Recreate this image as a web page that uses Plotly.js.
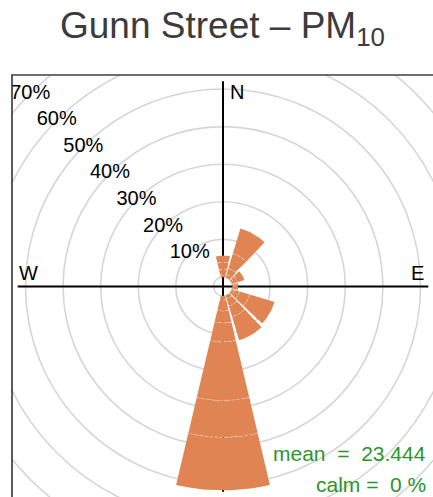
<!DOCTYPE html>
<html><head><meta charset="utf-8">
<script src="https://cdn.plot.ly/plotly-3.0.1.min.js"></script>
<style>html,body{margin:0;padding:0;background:#fff;overflow:hidden}#chart{width:433px;height:497px}</style>
</head><body><div id="chart"></div>
<script>
// wind-direction bins (degrees, clockwise from north)
const directions = [0, 30, 60, 90, 120, 150, 180];
// share of time (%) in each concentration interval, per direction (stacked outward)
const interval1 = [0.6, 0.8, 0.5, 0.4, 0.7, 0.9, 1.1];
const interval2 = [1.5, 1.7, 1.0, 0.6, 1.4, 2.0, 2.9];
const interval3 = [1.8, 4.1, 1.9, 0.5, 2.8, 3.0, 3.2];
const interval4 = [1.8, 7.0, 0.0, 0.0, 6.9, 6.5, 5.0];
const interval5 = [0.0, 0.0, 0.0, 0.0, 0.0, 0.0, 15.6];
const interval6 = [0.0, 0.0, 0.0, 0.0, 0.0, 0.0, 9.8];
const interval7 = [0.0, 0.0, 0.0, 0.0, 0.0, 0.0, 14.1];
const ringValues = [0, 10, 20, 30, 40, 50, 60, 70];
const ringLabels = ['10%', '20%', '30%', '40%', '50%', '60%', '70%'];
const compassLabels = ['N', 'E', 'W'];
const meanLabel = 'mean\u00a0\u00a0=\u00a0\u00a023.444';
const calmLabel = 'calm\u00a0=\u00a0\u00a00\u00a0%';

const series = [interval1, interval2, interval3, interval4, interval5, interval6, interval7];
const K = 3.76;          // px per percent
const OFF = 2.53;        // central hole, in percent units
const HALF = 13.3;       // half wedge width, degrees
const FILL = '#DF8452';
const FONT = 'Liberation Sans, Arial, Helvetica, sans-serif';
const CX = 223, CY = 286.5, L = 12, T = 75, W = 433, H = 497;

const rad = d => d * Math.PI / 180;
function px(r, b) { return r * Math.sin(rad(b)); }
function py(r, b) { return r * Math.cos(rad(b)); }

const traces = [];
const dashX = [], dashY = [];
directions.forEach((dir, i) => {
  let cum = 0;
  series.forEach((s, k) => {
    const v = s[i];
    if (v <= 0) return;
    const r0 = OFF + cum, r1 = OFF + cum + v;
    const xs = [], ys = [];
    const n = 24;
    for (let j = 0; j <= n; j++) { const b = dir - HALF + 2 * HALF * j / n; xs.push(px(r1, b)); ys.push(py(r1, b)); }
    for (let j = n; j >= 0; j--) { const b = dir - HALF + 2 * HALF * j / n; xs.push(px(r0, b)); ys.push(py(r0, b)); }
    xs.push(xs[0]); ys.push(ys[0]);
    traces.push({type: 'scatter', mode: 'lines', x: xs, y: ys, fill: 'toself', fillcolor: FILL,
      line: {width: 0, color: FILL}, hoverinfo: 'skip', showlegend: false});
    cum += v;
    const isLast = series.slice(k + 1).every(t => t[i] <= 0);
    if (!isLast) {
      for (let j = 0; j <= n; j++) { const b = dir - HALF + 2 * HALF * j / n; dashX.push(px(r1, b)); dashY.push(py(r1, b)); }
      dashX.push(null); dashY.push(null);
    }
  });
});
traces.push({type: 'scatter', mode: 'lines', x: dashX, y: dashY, connectgaps: false,
  line: {color: 'rgba(255,255,255,0.38)', width: 1, dash: '3px,2px'}, hoverinfo: 'skip', showlegend: false});

// ring labels along the north-west diagonal
traces.push({type: 'scatter', mode: 'text', cliponaxis: true,
  x: ringValues.slice(1).map(p => px(OFF + p, 315)),
  y: ringValues.slice(1).map(p => py(OFF + p, 315)),
  text: ringLabels, textposition: 'middle center',
  textfont: {size: 20, color: '#000', family: FONT}, hoverinfo: 'skip', showlegend: false});

const xr = [-(CX - L) / K, (W - CX) / K];
const yr = [-(H - CY) / K, (CY - T) / K];
const AX = 54.6;

const shapes = [];
ringValues.forEach(p => {
  const r = OFF + p;
  shapes.push({type: 'circle', xref: 'x', yref: 'y', x0: -r, x1: r, y0: -r, y1: r,
    line: {color: '#d6d6d6', width: 1.6}, layer: 'below'});
});
shapes.push({type: 'line', xref: 'x', yref: 'y', x0: -AX, x1: AX, y0: 0, y1: 0, line: {color: '#000', width: 2}, layer: 'below'});
shapes.push({type: 'line', xref: 'x', yref: 'y', x0: 0, x1: 0, y0: -AX, y1: AX, line: {color: '#000', width: 2}, layer: 'below'});
shapes.push({type: 'rect', xref: 'paper', yref: 'paper', x0: 0, x1: 1.05, y0: -0.05, y1: 1,
  line: {color: '#404040', width: 1.7}, layer: 'above'});

const lab = 51.6, side = 3.72;
const compassPos = {N: [side, lab], E: [lab, side], W: [-51.8, side]};
const annotations = compassLabels.map(c => ({xref: 'x', yref: 'y', x: compassPos[c][0], y: compassPos[c][1],
  text: c, showarrow: false, xanchor: 'center', yanchor: 'middle', font: {size: 20, color: '#000', family: FONT}}));
annotations.push({xref: 'x', yref: 'y', x: (428 - CX) / K, y: -(453 - CY) / K, text: meanLabel, showarrow: false,
  xanchor: 'right', yanchor: 'middle', font: {size: 21, color: '#2a962a', family: FONT}});
annotations.push({xref: 'x', yref: 'y', x: (428 - CX) / K, y: -(484.5 - CY) / K, text: calmLabel, showarrow: false,
  xanchor: 'right', yanchor: 'middle', font: {size: 21, color: '#2a962a', family: FONT}});

const layout = {
  width: W, height: H,
  margin: {l: L, r: 0, t: T, b: 0},
  paper_bgcolor: '#fff', plot_bgcolor: '#fff',
  title: {text: 'Gunn Street \u2013 PM<sub>10</sub>', x: 0.5, xref: 'paper', xanchor: 'center',
    y: 1 - 25 / H, yref: 'container', yanchor: 'middle',
    font: {size: 37, color: '#3c3c3c', family: FONT}},
  xaxis: {range: xr, visible: false, fixedrange: true},
  yaxis: {range: yr, visible: false, fixedrange: true},
  shapes: shapes, annotations: annotations, showlegend: false, hovermode: false
};
Plotly.newPlot('chart', traces, layout, {displayModeBar: false, staticPlot: true});
</script></body></html>
